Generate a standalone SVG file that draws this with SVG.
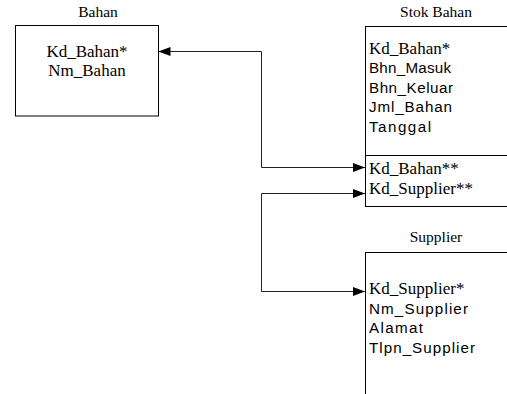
<svg xmlns="http://www.w3.org/2000/svg" width="507" height="394" viewBox="0 0 507 394">
  <defs>
    <marker id="arrow" viewBox="0 0 12 9" refX="12" refY="4.5" markerWidth="12" markerHeight="9" markerUnits="userSpaceOnUse" orient="auto">
      <path d="M0,0 L12,4.5 L0,9 Z" fill="#000"/>
    </marker>
  </defs>
  <style>
    .box { fill: #fff; stroke: #000; stroke-width: 1; }
    .title { font-family: 'Liberation Serif', 'Times New Roman', serif; font-size: 15.5px; fill: #000; text-anchor: middle; }
    .serif { font-family: 'Liberation Serif', 'Times New Roman', serif; font-size: 17px; fill: #000; }
    .sans { font-family: 'Liberation Sans', Arial, sans-serif; font-size: 15.2px; fill: #000; }
    .link { fill: none; stroke: #222; stroke-width: 1; marker-end: url(#arrow); }
  </style>
  <rect width="507" height="394" fill="#fff"/>

  <g id="bahan">
    <text class="title" x="98" y="17">Bahan</text>
    <rect class="box" x="15.5" y="25.5" width="143" height="90.5"/>
    <text class="serif" x="87" y="57" text-anchor="middle">Kd_Bahan*</text>
    <text class="serif" x="87" y="76" text-anchor="middle">Nm_Bahan</text>
  </g>

  <g id="stok-bahan">
    <text class="title" x="436" y="17">Stok Bahan</text>
    <rect class="box" x="365.5" y="26.5" width="150" height="180"/>
    <line x1="365.5" y1="155.5" x2="507" y2="155.5" stroke="#000" stroke-width="1"/>
    <text class="serif" x="369" y="54">Kd_Bahan*</text>
    <text class="sans" x="369" y="73" textLength="82" lengthAdjust="spacing">Bhn_Masuk</text>
    <text class="sans" x="369" y="92.5" textLength="84" lengthAdjust="spacing">Bhn_Keluar</text>
    <text class="sans" x="369" y="112" textLength="83" lengthAdjust="spacing">Jml_Bahan</text>
    <text class="sans" x="369" y="131.5" textLength="62" lengthAdjust="spacing">Tanggal</text>
    <text class="serif" x="369" y="174">Kd_Bahan**</text>
    <text class="serif" x="369" y="194">Kd_Supplier**</text>
  </g>

  <g id="supplier">
    <text class="title" x="436" y="242">Supplier</text>
    <rect class="box" x="365.5" y="252.5" width="150" height="160"/>
    <text class="serif" x="369" y="294">Kd_Supplier*</text>
    <text class="sans" x="369" y="314" textLength="99" lengthAdjust="spacing">Nm_Supplier</text>
    <text class="sans" x="369" y="333" textLength="54" lengthAdjust="spacing">Alamat</text>
    <text class="sans" x="369" y="352.5" textLength="106" lengthAdjust="spacing">Tlpn_Supplier</text>
  </g>

  <g id="connectors">
    <path class="link" d="M261.5,51.5 H158.5"/>
    <path class="link" d="M261.5,51.5 V167.5 H365"/>
    <path class="link" d="M261.5,193.5 H365"/>
    <path class="link" d="M261.5,193.5 V291.5 H365"/>
  </g>
</svg>
